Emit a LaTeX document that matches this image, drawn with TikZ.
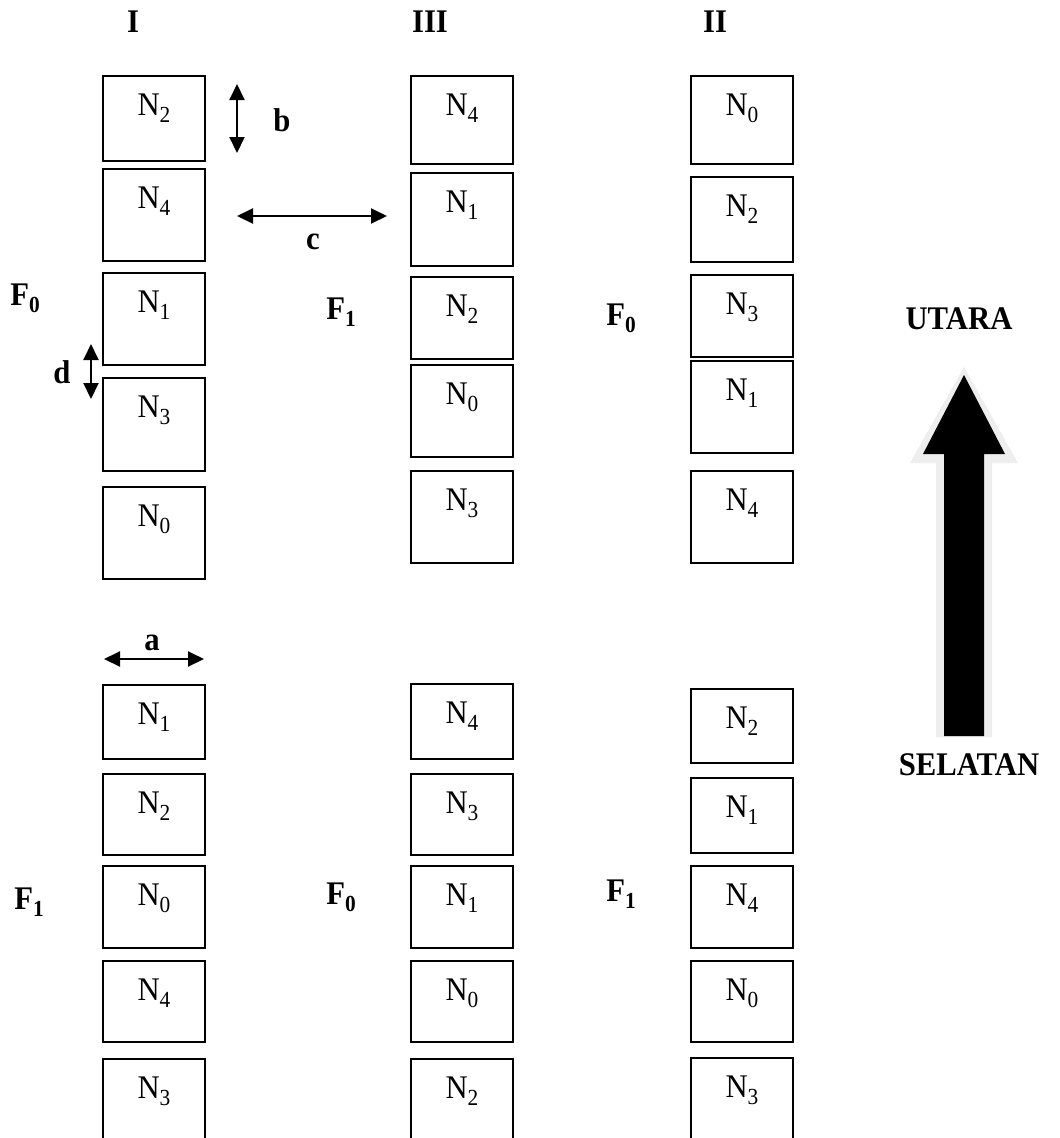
\documentclass[tikz,border=0pt]{standalone}
\usepackage{fontspec}
\setmainfont{Liberation Serif}[FakeStretch=0.93]
\usetikzlibrary{arrows.meta,calc}
\definecolor{halo}{HTML}{EEEEEE}
\newcommand\Nn[1]{N\raisebox{-0.22em}{\fontsize{23}{23}\selectfont #1}}
\newcommand\Ff[1]{\textbf{F\raisebox{-0.22em}{\fontsize{23}{23}\selectfont #1}}}
\tikzset{
  base/.style={font=\fontsize{33}{39}\selectfont, inner sep=0pt},
  bx/.style={draw, line width=1.5pt, rectangle, minimum width=102pt, inner sep=0pt},
  boxlab/.style={base, anchor=center, yshift=-33pt},
  dim/.style={line width=2pt, {Triangle[length=16pt,width=15pt]}-{Triangle[length=16pt,width=15pt]}},
  bold/.style={base, font=\fontsize{33}{39}\selectfont\bfseries}
}
\begin{document}
\begin{tikzpicture}[x=1pt,y=-1pt]
\useasboundingbox (0,0) rectangle (1060,1138);
\clip (0,0) rectangle (1060,1138);
\fill[white] (0,0) rectangle (1060,1138);
% column headers
\node[bold] (hI) at (133,22) {I};
\node[bold] (hIII) at (430,22) {III};
\node[bold] (hII) at (715,22) {II};
% ---- Column I, top
\node[bx, minimum height=85pt, label={[boxlab,name=lA1]north:\Nn{2}}] (A1) at (154,118.5) {};
\node[bx, minimum height=92pt, label={[boxlab,name=lA2]north:\Nn{4}}] (A2) at (154,215) {};
\node[bx, minimum height=92pt, label={[boxlab,name=lA3]north:\Nn{1}}] (A3) at (154,319) {};
\node[bx, minimum height=93pt, label={[boxlab,name=lA4]north:\Nn{3}}] (A4) at (154,424.5) {};
\node[bx, minimum height=92pt, label={[boxlab,name=lA5]north:\Nn{0}}] (A5) at (154,533) {};
% ---- Column III, top
\node[bx, minimum height=88pt, label={[boxlab,name=lB1]north:\Nn{4}}] (B1) at (462,120) {};
\node[bx, minimum height=93pt, label={[boxlab,name=lB2]north:\Nn{1}}] (B2) at (462,219.5) {};
\node[bx, minimum height=82pt, label={[boxlab,name=lB3]north:\Nn{2}}] (B3) at (462,318) {};
\node[bx, minimum height=92pt, label={[boxlab,name=lB4]north:\Nn{0}}] (B4) at (462,411) {};
\node[bx, minimum height=92pt, label={[boxlab,name=lB5]north:\Nn{3}}] (B5) at (462,517) {};
% ---- Column II, top
\node[bx, minimum height=88pt, label={[boxlab,name=lC1]north:\Nn{0}}] (C1) at (742,120) {};
\node[bx, minimum height=85pt, label={[boxlab,name=lC2]north:\Nn{2}}] (C2) at (742,219.5) {};
\node[bx, minimum height=82pt, label={[boxlab,name=lC3]north:\Nn{3}}] (C3) at (742,316) {};
\node[bx, minimum height=92pt, label={[boxlab,name=lC4]north:\Nn{1}}] (C4) at (742,407) {};
\node[bx, minimum height=92pt, label={[boxlab,name=lC5]north:\Nn{4}}] (C5) at (742,517) {};
% ---- Column I, bottom
\node[bx, minimum height=74pt, label={[boxlab,name=lD1]north:\Nn{1}}] (D1) at (154,722) {};
\node[bx, minimum height=81pt, label={[boxlab,name=lD2]north:\Nn{2}}] (D2) at (154,814.5) {};
\node[bx, minimum height=82pt, label={[boxlab,name=lD3]north:\Nn{0}}] (D3) at (154,907) {};
\node[bx, minimum height=81pt, label={[boxlab,name=lD4]north:\Nn{4}}] (D4) at (154,1001.5) {};
\node[bx, minimum height=101pt, label={[boxlab,name=lD5]north:\Nn{3}}] (D5) at (154,1109.5) {};
% ---- Column III, bottom
\node[bx, minimum height=75pt, label={[boxlab,name=lE1]north:\Nn{4}}] (E1) at (462,721.5) {};
\node[bx, minimum height=81pt, label={[boxlab,name=lE2]north:\Nn{3}}] (E2) at (462,814.5) {};
\node[bx, minimum height=82pt, label={[boxlab,name=lE3]north:\Nn{1}}] (E3) at (462,907) {};
\node[bx, minimum height=81pt, label={[boxlab,name=lE4]north:\Nn{0}}] (E4) at (462,1001.5) {};
\node[bx, minimum height=101pt, label={[boxlab,name=lE5]north:\Nn{2}}] (E5) at (462,1109.5) {};
% ---- Column II, bottom
\node[bx, minimum height=74pt, label={[boxlab,name=lG1]north:\Nn{2}}] (G1) at (742,726) {};
\node[bx, minimum height=75pt, label={[boxlab,name=lG2]north:\Nn{1}}] (G2) at (742,815.5) {};
\node[bx, minimum height=82pt, label={[boxlab,name=lG3]north:\Nn{4}}] (G3) at (742,907) {};
\node[bx, minimum height=81pt, label={[boxlab,name=lG4]north:\Nn{0}}] (G4) at (742,1001.5) {};
\node[bx, minimum height=102pt, label={[boxlab,name=lG5]north:\Nn{3}}] (G5) at (742,1109) {};
% F labels
\node[base] (f1) at (25,298) {\Ff{0}};
\node[base] (f2) at (341,312) {\Ff{1}};
\node[base] (f3) at (621,318) {\Ff{0}};
\node[base] (f4) at (29,902) {\Ff{1}};
\node[base] (f5) at (341,897) {\Ff{0}};
\node[base] (f6) at (621,894) {\Ff{1}};
% dimension arrows
\coordinate (b1) at (237,84); \coordinate (b2) at (237,153);
\coordinate (c1) at (237,216); \coordinate (c2) at (387,216);
\coordinate (d1) at (91,344); \coordinate (d2) at (91,399);
\coordinate (a1) at (104,659); \coordinate (a2) at (204,659);
\draw[dim] (b1) -- (b2);
\draw[dim] (c1) -- (c2);
\draw[dim] (d1) -- (d2);
\draw[dim] (a1) -- (a2);
\node[bold] (lb) at (282,120) {b};
\node[bold] (lc) at (313,242) {c};
\node[bold] (ld) at (62,372) {d};
\node[bold] (la) at (152,643) {a};
% north arrow
\fill[halo] (964,367) -- (1018,463) -- (992,463) -- (992,737) -- (936,737) -- (936,463) -- (910,463) -- cycle;
\fill[black] (964,375) -- (1005,454) -- (984,454) -- (984,736) -- (944,736) -- (944,454) -- (923,454) -- cycle;
\node[bold] (ut) at (959,319) {UTARA};
\node[bold] (sl) at (969,765) {SELATAN};
\end{tikzpicture}
\end{document}
